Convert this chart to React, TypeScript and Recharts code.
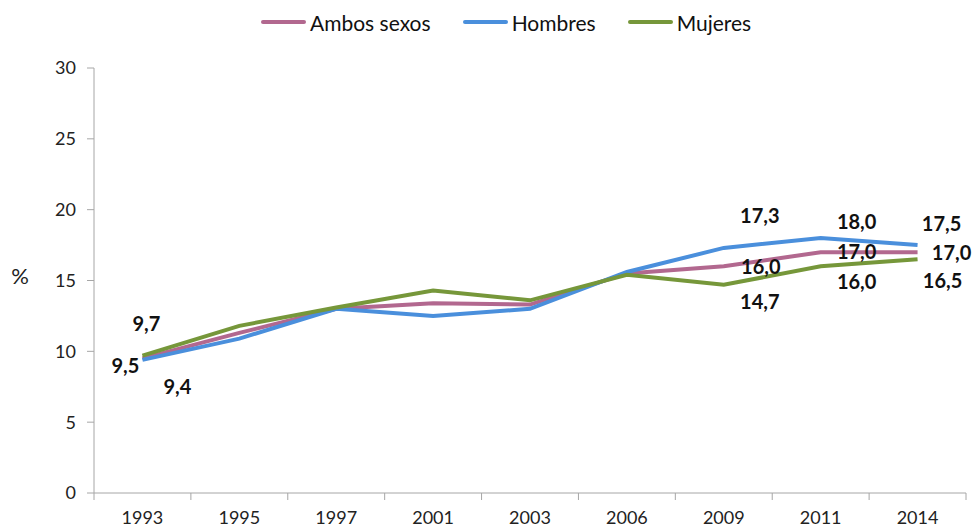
import { LineChart, Line, XAxis, YAxis, Legend, LabelList } from "recharts";

// Encuesta: porcentaje por año y sexo
const YEARS = ["1993", "1995", "1997", "2001", "2003", "2006", "2009", "2011", "2014"];
const AMBOS = [9.5, 11.3, 13.0, 13.4, 13.3, 15.5, 16.0, 17.0, 17.0];
const HOMBRES = [9.4, 10.9, 13.0, 12.5, 13.0, 15.6, 17.3, 18.0, 17.5];
const MUJERES = [9.7, 11.8, 13.1, 14.3, 13.6, 15.4, 14.7, 16.0, 16.5];
const Y_TICKS = [0, 5, 10, 15, 20, 25, 30];

const data = YEARS.map((year, i) => ({
  year,
  ambos: AMBOS[i],
  hombres: HOMBRES[i],
  mujeres: MUJERES[i],
}));

const W = 975;
const H = 528;
const Y_AXIS_W = 94;
const RIGHT = 9;
const BAND = (W - Y_AXIS_W - RIGHT) / YEARS.length;
const FONT = "Lato, 'Open Sans', sans-serif";
const AXIS = "#a6a6a6";

const SERIES = [
  { key: "ambos", name: "Ambos sexos", color: "#b2688f" },
  { key: "hombres", name: "Hombres", color: "#4a8fdc" },
  { key: "mujeres", name: "Mujeres", color: "#76973a" },
];

// where each printed value sits, relative to its point
const LABEL_POS: Record<string, Record<number, [number, number]>> = {
  ambos: { 0: [-17, 8], 6: [37, 1], 7: [36, 0], 8: [34, 1] },
  hombres: { 0: [35, 27], 6: [36, -32], 7: [36, -16], 8: [24, -21] },
  mujeres: { 0: [4, -32], 6: [36, 17], 7: [36, 16], 8: [25, 22] },
};

const fmt = (v: number) => v.toFixed(1).replace(".", ",");

const makeLabel = (key: string) => (props: any) => {
  const pos = LABEL_POS[key][props.index];
  if (!pos || props.value == null) return null;
  return (
    <text
      x={props.x + pos[0]}
      y={props.y + pos[1] + 7}
      textAnchor="middle"
      fontFamily={FONT}
      fontWeight={700}
      fontSize={20}
      fill="#111"
    >
      {fmt(props.value)}
    </text>
  );
};

const YearTick = (props: any) => {
  const { x, y, payload, index } = props;
  const last = index === YEARS.length - 1;
  return (
    <g>
      <line x1={x - BAND / 2} x2={x - BAND / 2} y1={y} y2={y + 7} stroke={AXIS} />
      {last && <line x1={x + BAND / 2} x2={x + BAND / 2} y1={y} y2={y + 7} stroke={AXIS} />}
      <text x={x} y={y + 31} textAnchor="middle" fontFamily={FONT} fontSize={18} fill="#222">
        {payload.value}
      </text>
    </g>
  );
};

const LegendBox = () => (
  <div style={{ display: "flex", alignItems: "center", paddingLeft: 261, height: 44, fontFamily: FONT }}>
    {SERIES.map((s, i) => (
      <div key={s.key} style={{ display: "flex", alignItems: "center", marginLeft: i === 0 ? 0 : 32 }}>
        <span style={{ display: "inline-block", width: 45, height: 4, borderRadius: 2, background: s.color }} />
        <span style={{ fontSize: 21, color: "#111", marginLeft: 4 }}>{s.name}</span>
      </div>
    ))}
  </div>
);

export default function App() {
  return (
    <div style={{ width: W, height: H, background: "#fff" }}>
      <style>{`body{margin:0}`}</style>
      <LineChart width={W} height={H} data={data} margin={{ top: 24, right: RIGHT, left: 0, bottom: 0 }}>
        <Legend
          verticalAlign="top"
          align="left"
          content={<LegendBox />}
          wrapperStyle={{ top: 0, left: 0, width: W, height: 44 }}
        />
        <XAxis
          dataKey="year"
          scale="band"
          interval={0}
          height={35}
          tickSize={0}
          tickMargin={0}
          tickLine={false}
          axisLine={{ stroke: AXIS }}
          tick={<YearTick />}
        />
        <YAxis
          domain={[0, 30]}
          ticks={Y_TICKS}
          width={Y_AXIS_W}
          tickSize={7}
          tickMargin={11}
          axisLine={{ stroke: AXIS }}
          tickLine={{ stroke: AXIS }}
          tick={{ fontFamily: FONT, fontSize: 18, fill: "#222" }}
          label={{
            content: (p: any) => {
              const vb = p.viewBox || { x: 0, y: 68, height: 425 };
              return (
                <text x={vb.x + 20} y={vb.y + vb.height / 2 + 3} textAnchor="middle" fontFamily={FONT} fontSize={22} fill="#222">
                  %
                </text>
              );
            },
          }}
        />
        {SERIES.map((s) => (
          <Line
            key={s.key}
            type="linear"
            dataKey={s.key}
            name={s.name}
            stroke={s.color}
            strokeWidth={4}
            dot={false}
            activeDot={false}
            isAnimationActive={false}
          >
            <LabelList dataKey={s.key} content={makeLabel(s.key)} />
          </Line>
        ))}
      </LineChart>
    </div>
  );
}
